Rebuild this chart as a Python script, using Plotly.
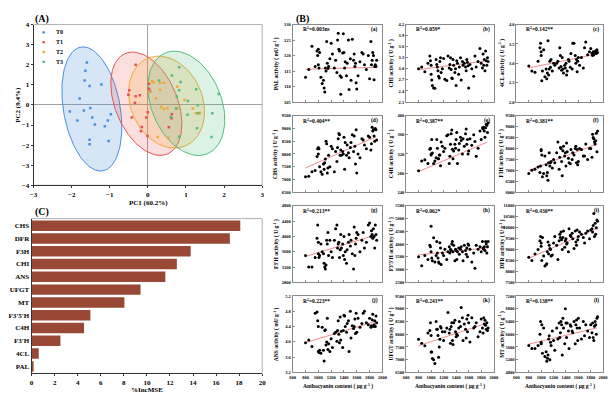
import numpy as np
import plotly.graph_objects as go

W, H = 616, 399
def fx(p): return p / W
def fy(p): return 1 - p / H

# ---------------- DATA ----------------
groups = ["T0", "T1", "T2", "T3"]
group_colors = ["#4a8fdc", "#e8504f", "#f0a938", "#4fbf7c"]
group_fills = ["rgba(74,143,220,0.22)", "rgba(232,80,79,0.18)", "rgba(240,169,56,0.22)", "rgba(79,191,124,0.20)"]

pc1_T0 = [-1.60, -1.64, -1.66, -1.53, -1.22, -1.79, -2.05, -1.68, -1.51, -1.46, -1.85, -1.39, -0.97, -1.05, -1.13, -1.53, -1.53, -1.03]
pc2_T0 = [2.11, 1.70, 1.22, 0.94, 1.02, 0.32, -0.33, -0.28, -0.15, -0.63, -0.77, -0.98, -0.46, -0.77, -1.06, -1.73, -1.96, -1.80]
pc1_T1 = [-0.32, 0.03, 0.03, -0.49, -0.21, -0.32, -0.51, -0.34, 0.00, -0.42, -0.04, 0.63, 0.62, -0.01, -0.16, -0.18, 0.55, 0.06]
pc2_T1 = [2.00, 1.05, 0.81, 0.73, 0.48, 0.43, 0.51, 0.11, -0.37, -0.63, -0.63, -0.46, -0.66, -1.55, -1.10, -1.31, -1.11, 0.67]
pc1_T2 = [0.11, 0.15, 0.32, 0.42, 0.32, 0.04, 0.21, 0.77, 0.96, 0.35, 0.42, 0.51, 0.77, 1.18, 1.37, 0.26, 0.54, 1.26]
pc2_T2 = [1.18, 1.13, 1.10, 1.10, 0.76, 0.65, 0.33, 0.91, 0.24, -0.10, -0.22, -0.18, -0.18, -0.18, -0.40, -1.60, -1.64, -0.41]
pc1_T3 = [0.63, 0.82, 0.29, 0.86, 0.82, 1.27, 0.76, 1.05, 0.74, 1.31, 1.86, 1.32, 1.04, 1.69, 1.29, 0.82, 1.67, 0.60]
pc2_T3 = [1.46, 1.87, 1.22, 1.14, 0.73, 0.78, 0.41, 0.20, -0.18, -0.02, 0.55, -0.41, -0.49, -0.41, -1.16, -1.57, -1.59, -0.60]

ell_cx = [-1.47, -0.04, 0.49, 1.01]
ell_cy = [-0.20, 0.06, 0.14, 0.08]
ell_a = [3.10, 2.60, 2.30, 2.62]
ell_b = [0.75, 0.85, 0.97, 0.95]
ell_angle = [94.5, 99.0, 96.3, 98.0]

enzymes = ["CHS", "DFR", "F3H", "CHI", "ANS", "UFGT", "MT", "F3'5'H", "C4H", "F3'H", "4CL", "PAL"]
incmse = [18.1, 17.2, 13.8, 12.6, 11.6, 9.45, 8.05, 5.1, 4.55, 2.5, 0.62, 0.14]

anthocyanin = [800, 850, 900, 950, 980, 990, 1000, 1000, 1010, 1020,
               1040, 1060, 1080, 1090, 1100, 1110, 1120, 1130, 1140, 1150,
               1160, 1180, 1200, 1220, 1250, 1270, 1290, 1300, 1310, 1320,
               1330, 1340, 1350, 1360, 1380, 1390, 1400, 1410, 1420, 1440,
               1450, 1470, 1480, 1500, 1510, 1530, 1550, 1560, 1570, 1580,
               1590, 1600, 1620, 1650, 1680, 1700, 1720, 1750, 1780, 1800,
               1820, 1830, 1840, 1850, 1860, 1870, 1880, 1890, 1900, 1910]

PAL = [113.0, 115.5, 123.0, 116.5, 121.5, 120.0, 122.0, 117.0, 116.0, 121.0,
       113.0, 111.0, 112.0, 109.5, 108.2, 116.0, 115.0, 124.5, 117.5, 115.8,
       116.5, 119.0, 124.0, 120.5, 116.0, 118.5, 114.5, 125.0, 127.2, 122.0,
       121.5, 113.5, 107.5, 113.0, 120.8, 127.0, 121.0, 116.0, 118.0, 113.5,
       117.5, 125.0, 109.0, 119.0, 112.0, 125.3, 118.5, 120.5, 116.5, 117.5,
       111.2, 109.2, 113.5, 118.0, 121.0, 120.5, 117.0, 115.5, 120.0, 112.5,
       124.5, 117.0, 118.5, 121.0, 120.0, 112.2, 116.5, 117.0, 116.5, 118.5]
CHI = [3.00, 3.05, 2.92, 3.15, 3.35, 3.22, 3.10, 2.85, 2.70, 2.55,
       2.48, 2.47, 3.25, 3.12, 3.05, 2.95, 2.80, 2.75, 3.20, 3.30,
       2.90, 3.00, 3.28, 2.72, 2.68, 3.35, 3.02, 3.12, 3.30, 2.98,
       2.75, 2.74, 3.25, 3.10, 2.90, 3.00, 2.55, 3.22, 3.15, 2.85,
       3.05, 3.30, 2.70, 3.20, 3.10, 3.15, 3.05, 2.95, 3.25, 3.18,
       3.08, 2.48, 3.12, 3.00, 2.80, 3.35, 3.05, 3.20, 3.55, 3.15,
       3.02, 3.40, 3.10, 3.25, 2.95, 3.48, 3.22, 3.10, 3.30, 3.20]
CL4 = [2.93, 2.80, 2.77, 3.05, 3.40, 3.52, 3.30, 3.20, 2.55, 2.80,
       3.35, 2.65, 2.85, 2.60, 2.75, 3.58, 2.70, 2.85, 3.05, 2.90,
       3.10, 2.80, 3.00, 2.95, 3.00, 3.05, 2.88, 3.40, 3.20, 2.92,
       2.82, 3.15, 2.85, 2.75, 2.95, 2.88, 3.00, 2.70, 2.80, 3.10,
       3.05, 2.90, 3.25, 2.85, 3.52, 3.52, 3.20, 3.00, 3.10, 2.78,
       3.05, 3.15, 2.95, 3.15, 2.88, 3.40, 3.55, 3.22, 3.30, 3.38,
       3.25, 3.20, 3.30, 3.22, 3.28, 3.30, 3.32, 3.25, 3.35, 3.28]
CHS = [7100, 7120, 7300, 7350, 7900, 8200, 8000, 8250, 8200, 7500,
       7300, 7200, 7600, 7400, 7650, 7800, 8500, 8400, 7250, 7450,
       7950, 7500, 8300, 8200, 7300, 8100, 7700, 8250, 8600, 8800,
       8750, 7950, 8150, 7950, 8100, 8000, 8650, 7400, 8450, 7950,
       8350, 8050, 7850, 8250, 8450, 8750, 8100, 8700, 8300, 7600,
       8950, 7250, 8000, 7850, 8600, 8550, 8350, 8200, 8700, 8650,
       8150, 8400, 9050, 8900, 8950, 8700, 8500, 9000, 8950, 8550]
C4H = [285, 305, 308, 300, 330, 332, 320, 318, 350, 322,
       300, 305, 312, 350, 332, 310, 310, 318, 318, 295,
       345, 336, 325, 332, 358, 360, 300, 315, 340, 362,
       370, 330, 310, 326, 340, 332, 350, 365, 300, 328,
       342, 355, 348, 320, 352, 336, 362, 372, 340, 350,
       320, 326, 352, 338, 360, 346, 315, 332, 368, 350,
       375, 372, 376, 368, 355, 375, 382, 380, 365, 385]
F3H = [6850, 7000, 7050, 7150, 6900, 7200, 7900, 7950, 7700, 6700,
       6850, 7650, 7250, 6750, 6900, 6550, 7350, 7800, 7200, 7350,
       7400, 7100, 7500, 7350, 7800, 8300, 7050, 7600, 8050, 8000,
       7400, 6750, 7900, 8100, 7650, 7800, 7200, 8250, 7850, 7550,
       7350, 7300, 7950, 7500, 7800, 7700, 8000, 8100, 7350, 7950,
       7250, 7400, 8000, 7950, 7650, 7650, 8200, 7500, 8000, 8000,
       7600, 8650, 8500, 8450, 8300, 8200, 8350, 8700, 7850, 8800]
F3pH = [3500, 3200, 3200, 3450, 3950, 4300, 3850, 3550, 3450, 3500,
        3800, 3600, 3550, 3300, 3200, 3150, 3250, 3900, 3800, 4100,
        3500, 3900, 3600, 3450, 3900, 4200, 4300, 3700, 3800, 3850,
        3450, 3650, 4050, 3700, 3800, 3500, 4000, 3400, 3600, 3300,
        3650, 3850, 4050, 3750, 3900, 3550, 3150, 4250, 3500, 3800,
        3950, 4100, 4050, 3600, 3900, 4100, 3700, 3850, 4300, 4350,
        4000, 4150, 4050, 3950, 4200, 4000, 3700, 4300, 4050, 3900]
F35H = [3500, 3150, 3550, 3400, 3950, 3900, 4700, 3700, 3450, 3350,
        4250, 3300, 3550, 4100, 3650, 3450, 3300, 3250, 4050, 3850,
        3200, 3650, 3550, 3800, 3400, 3700, 3900, 3650, 3800, 3750,
        4000, 4100, 3700, 3950, 3350, 3800, 3750, 3400, 3700, 3850,
        3600, 3800, 3900, 3700, 3350, 3950, 3750, 3600, 3850, 3500,
        4000, 3950, 3800, 3300, 3650, 3050, 3950, 3800, 3900, 3700,
        4100, 3850, 3800, 3900, 3750, 4100, 4000, 3650, 3900, 4100]
DFR = [8650, 8500, 8800, 9000, 9400, 9600, 9300, 9150, 8500, 9550,
       8700, 8250, 8300, 8350, 8900, 9350, 8800, 9200, 9050, 9000,
       8700, 8750, 9300, 9600, 9200, 8550, 9400, 9700, 9550, 9800,
       9450, 9000, 9550, 9850, 9100, 9400, 9500, 9250, 9300, 8900,
       9950, 9650, 9600, 9750, 9500, 9050, 9850, 9350, 9200, 9900,
       9450, 9600, 9800, 9700, 9550, 9300, 9750, 9850, 9500, 9900,
       9950, 9800, 10100, 10650, 9600, 10200, 9700, 10000, 10350, 10300]
ANS = [3.98, 4.05, 3.88, 4.75, 4.78, 4.55, 4.40, 3.75, 3.72, 3.78,
       3.70, 4.38, 3.78, 3.50, 4.30, 4.32, 3.92, 4.00, 4.62, 3.80,
       3.95, 3.75, 4.08, 3.85, 4.22, 4.25, 4.02, 4.30, 4.55, 4.20,
       3.98, 4.65, 4.05, 4.28, 3.85, 4.30, 4.70, 4.68, 4.40, 4.25,
       4.48, 4.55, 3.75, 4.80, 4.10, 4.42, 4.35, 4.40, 4.60, 4.22,
       4.75, 4.25, 4.62, 4.38, 4.48, 4.75, 4.80, 4.50, 4.45, 4.62,
       4.38, 4.42, 4.58, 4.72, 4.40, 4.45, 4.55, 4.40, 4.68, 4.50]
UFGT = [7800, 7650, 7550, 8050, 8150, 8450, 7950, 7300, 7300, 7050,
        7000, 6850, 8500, 8200, 8200, 7950, 7100, 7500, 7800, 8300,
        8250, 8100, 7750, 8100, 8250, 8850, 8050, 8200, 7650, 8300,
        8450, 7750, 7600, 8450, 8550, 8100, 7900, 8000, 7950, 8250,
        8500, 8300, 9050, 8650, 7750, 8400, 8200, 7850, 8600, 8100,
        8750, 8450, 7700, 8650, 8250, 8300, 8450, 7900, 8100, 8600,
        8250, 8050, 8650, 8400, 8550, 8350, 8200, 8450, 8150, 8250]
MT = [5650, 5550, 5550, 5650, 6000, 6400, 5750, 5700, 6300, 5400,
      6200, 5300, 5450, 5150, 5250, 5350, 5850, 5950, 5200, 5750,
      5650, 6100, 5800, 5500, 6200, 5850, 6350, 5900, 6050, 6400,
      6300, 5350, 6500, 6200, 5700, 6800, 6350, 5900, 6350, 6100,
      5550, 6300, 6250, 6100, 6050, 6400, 5700, 6300, 6450, 6200,
      5800, 6500, 6200, 5850, 6400, 5950, 6300, 6100, 5900, 6300,
      6050, 6350, 5900, 5800, 6250, 6400, 6300, 6000, 6500, 6550]

activity_series = [PAL, CHI, CL4, CHS, C4H, F3H, F3pH, F35H, DFR, ANS, UFGT, MT]
y_titles = ["PAL activity ( mU g<sup>-1</sup> )", "CHI activity ( U g<sup>-1</sup> )", "4CL activity ( U g<sup>-1</sup> )",
            "CHS activity ( U g<sup>-1</sup> )", "C4H activity ( U g<sup>-1</sup> )", "F3H activity ( U g<sup>-1</sup> )",
            "F3'H activity ( U g<sup>-1</sup> )", "F3'5'H activity ( U g<sup>-1</sup> )", "DFR activity ( U g<sup>-1</sup> )",
            "ANS activity ( mU g<sup>-1</sup> )", "UFGT activity ( U g<sup>-1</sup> )", "MT activity ( U g<sup>-1</sup> )"]
r2_labels = ["0.003ns", "0.059*", "0.142**", "0.404**", "0.387**", "0.381**",
             "0.213**", "0.062*", "0.430**", "0.223**", "0.241**", "0.138**"]
panel_tags = ["(a)", "(b)", "(c)", "(d)", "(e)", "(f)", "(g)", "(h)", "(i)", "(j)", "(k)", "(l)"]
y_ranges = [[105, 130], [2.1, 4.2], [2.0, 4.0], [6500, 9500], [240, 400], [6000, 9500],
            [2800, 4800], [2500, 5500], [7500, 11000], [3.2, 5.2], [6500, 9500], [4800, 7200]]
y_dticks = [5, 0.3, 0.5, 500, 40, 500, 400, 500, 500, 0.4, 500, 400]
fit_x = [800, 1900]
fit_left = [115.6, 2.98, 2.88, 7450, 283, 7000, 3475, 3580, 8600, 3.98, 7550, 5690]
fit_right = [116.2, 3.22, 3.24, 8675, 345, 8200, 4040, 3850, 9970, 4.54, 8440, 6200]

# ---------------- FIGURE ----------------
fig = go.Figure()
FONT = "Liberation Serif"
layout = dict(width=W, height=H, margin=dict(l=0, r=0, t=0, b=0),
              paper_bgcolor="white", plot_bgcolor="white", showlegend=False,
              font=dict(family=FONT, color="black", weight="bold"))
annotations = []
shapes = []

def ann(text, x, y, size, xanchor="center", yanchor="middle", angle=0):
    annotations.append(dict(text=text, x=fx(x), y=fy(y), xref="paper", yref="paper",
                            showarrow=False, xanchor=xanchor, yanchor=yanchor, textangle=angle,
                            font=dict(family=FONT, size=size, color="black", weight="bold")))

# ---- Panel A: PCA ----
A_x0, A_x1, A_y0, A_y1 = 30, 262, 21, 185
pcs = [(pc1_T0, pc2_T0), (pc1_T1, pc2_T1), (pc1_T2, pc2_T2), (pc1_T3, pc2_T3)]
t = np.linspace(0, 2 * np.pi, 120)
for i in range(4):
    th = np.deg2rad(ell_angle[i])
    ex = ell_cx[i] + ell_a[i] * np.cos(t) * np.cos(th) - ell_b[i] * np.sin(t) * np.sin(th)
    ey = ell_cy[i] + ell_a[i] * np.cos(t) * np.sin(th) + ell_b[i] * np.sin(t) * np.cos(th)
    fig.add_trace(go.Scatter(x=ex, y=ey, mode="lines", fill="toself", fillcolor=group_fills[i],
                             line=dict(color=group_colors[i], width=1), xaxis="x", yaxis="y",
                             hoverinfo="skip"))
for i in range(4):
    fig.add_trace(go.Scatter(x=pcs[i][0], y=pcs[i][1], mode="markers", name=groups[i],
                             marker=dict(color=group_colors[i], size=2.5, symbol="square"),
                             xaxis="x", yaxis="y"))
tickfont_A = dict(family=FONT, size=7, color="black", weight="bold")
layout["xaxis"] = dict(domain=[fx(A_x0), fx(A_x1)], anchor="y", range=[-3, 3], dtick=1,
                       showgrid=False, zeroline=True, zerolinecolor="#a0a0a0", zerolinewidth=1,
                       showline=True, linecolor="#333", linewidth=1, ticks="outside", ticklen=2,
                       tickcolor="#333", tickfont=tickfont_A)
layout["yaxis"] = dict(domain=[fy(A_y1), fy(A_y0)], anchor="x", range=[-4, 4], dtick=1,
                       showgrid=False, zeroline=True, zerolinecolor="#a0a0a0", zerolinewidth=1,
                       showline=True, linecolor="#333", linewidth=1, ticks="outside", ticklen=2,
                       tickcolor="#333", tickfont=tickfont_A)
shapes.append(dict(type="rect", xref="x domain", yref="y domain", x0=0, x1=1, y0=0, y1=1,
                   line=dict(color="#b0b0b0", width=1), layer="below"))
ann("PC1 (60.2%)", (A_x0 + A_x1) / 2 + 1, 203, 7)
ann("PC2 (9.4%)", 14, (A_y0 + A_y1) / 2, 7, angle=-90)
ann("(A)", 29, 15, 10, xanchor="left")
# manual legend
for i in range(4):
    ly = 29 + i * 10
    shapes.append(dict(type="rect", xref="paper", yref="paper", x0=fx(39), x1=fx(41.5),
                       y0=fy(ly + 1.2), y1=fy(ly - 1.2), fillcolor=group_colors[i], line=dict(width=0)))
    ann(groups[i], 51, ly, 6, xanchor="left")

# ---- Panel C: bar chart ----
C_x0, C_x1, C_y0, C_y1 = 28, 262, 219, 377
fig.add_trace(go.Bar(x=incmse, y=enzymes, orientation="h", marker=dict(color="#9a4836", line=dict(width=0)),
                     width=0.82, xaxis="x2", yaxis="y2"))
layout["xaxis2"] = dict(domain=[fx(C_x0), fx(C_x1)], anchor="y2", range=[0, 20], dtick=2,
                        showgrid=False, zeroline=False, showline=True, linecolor="#333", linewidth=1,
                        ticks="outside", ticklen=2, tickcolor="#333", tickfont=tickfont_A)
layout["yaxis2"] = dict(domain=[fy(C_y1), fy(C_y0)], anchor="x2", categoryorder="array",
                        categoryarray=enzymes[::-1], showgrid=False, zeroline=False,
                        showline=True, linecolor="#333", linewidth=1, ticks="",
                        tickfont=tickfont_A, range=[-0.55, 11.55])
shapes.append(dict(type="rect", xref="x2 domain", yref="y2 domain", x0=0, x1=1, y0=0, y1=1,
                   line=dict(color="#b0b0b0", width=1), layer="below"))
ann("%IncMSE", (C_x0 + C_x1) / 2, 394, 7)
ann("(C)", 29, 212, 10, xanchor="left")

# ---- Panel B: 12 scatter plots ----
cols = [(293, 384), (408, 497), (520, 608)]
rows = [(21, 100), (114, 192), (206, 284), (298, 376)]
ytitle_x = [276, 393, 505]
ann("(B)", 294, 15, 10, xanchor="left")
tickfont_B = dict(family=FONT, size=4.5, color="black", weight="bold")
for k in range(12):
    r, c = divmod(k, 3)
    x0, x1 = cols[c]
    y0, y1 = rows[r]
    n = k + 3
    xa, ya = f"x{n}", f"y{n}"
    fig.add_trace(go.Scatter(x=fit_x, y=[fit_left[k], fit_right[k]], mode="lines",
                             line=dict(color="#f08c8c", width=1), xaxis=xa, yaxis=ya))
    fig.add_trace(go.Scatter(x=anthocyanin, y=activity_series[k], mode="markers",
                             marker=dict(color="black", size=3), xaxis=xa, yaxis=ya))
    fmt = ".1f" if y_dticks[k] < 1 else "d"
    layout[f"xaxis{n}"] = dict(domain=[fx(x0), fx(x1)], anchor=ya, range=[600, 2000], dtick=200,
                               showgrid=False, zeroline=False, showline=True, mirror=True,
                               linecolor="#8a8a8a", linewidth=1, ticks="inside", ticklen=2,
                               tickcolor="#8a8a8a", showticklabels=(r == 3), tickfont=tickfont_B)
    layout[f"yaxis{n}"] = dict(domain=[fy(y1), fy(y0)], anchor=xa, range=y_ranges[k],
                               dtick=y_dticks[k], tick0=y_ranges[k][0], tickformat=fmt,
                               showgrid=False, zeroline=False, showline=True, mirror=True,
                               linecolor="#8a8a8a", linewidth=1, ticks="inside", ticklen=2,
                               tickcolor="#8a8a8a", tickfont=tickfont_B)
    ann(y_titles[k], ytitle_x[c], (y0 + y1) / 2, 5.5, angle=-90)
    ann("R<sup>2</sup>=" + r2_labels[k], x0 + 8, y0 + 5, 5.5, xanchor="left")
    ann(panel_tags[k], x1 - 2, y0 + 5, 5.5, xanchor="right")
    if r == 3:
        ann("Anthocyanin content ( μg g<sup>-1</sup> )", (x0 + x1) / 2, 390, 5.5)

layout["annotations"] = annotations
layout["shapes"] = shapes
fig.update_layout(**layout)
fig.write_html("out.html")
